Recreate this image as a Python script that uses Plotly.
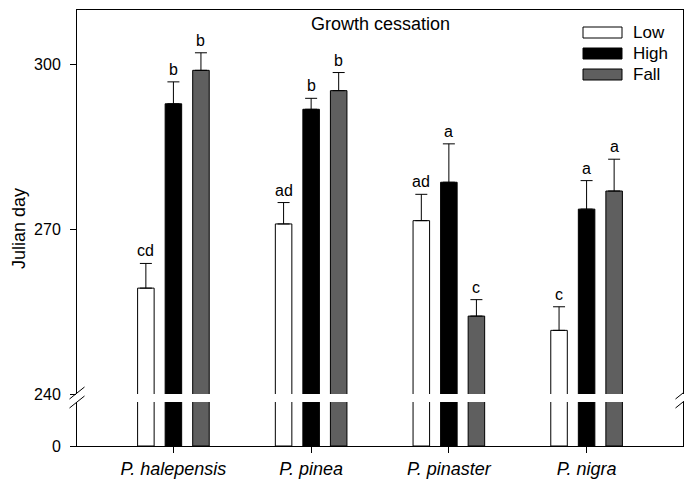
import plotly.graph_objects as go

species = ["P. halepensis", "P. pinea", "P. pinaster", "P. nigra"]
series = ["Low", "High", "Fall"]
low = [259.3, 271.0, 271.6, 251.6]
high = [292.9, 291.9, 278.6, 273.7]
fall = [299.0, 295.3, 254.2, 277.0]
low_err = [4.5, 3.9, 4.8, 4.3]
high_err = [4.0, 2.0, 7.0, 5.2]
fall_err = [3.2, 3.3, 3.0, 5.8]
low_lab = ["cd", "ad", "ad", "c"]
high_lab = ["b", "b", "a", "a"]
fall_lab = ["b", "b", "c", "a"]
yticks_top = [240, 270, 300]

values = [low, high, fall]
errs = [low_err, high_err, fall_err]
labs = [low_lab, high_lab, fall_lab]
colors = ["#ffffff", "#000000", "#5f5f5f"]

FONT = "Arial, Liberation Sans, sans-serif"
W, H = 684, 491
ML, MR, MT, MB = 77, 1, 10, 45
PW, PH = W - ML - MR, H - MT - MB

def px(x):
    return (x - ML) / PW

def py(y):
    return (H - MB - y) / PH

xs = list(range(len(species)))

fig = go.Figure()
for j, name in enumerate(series):
    # lower (broken) segment
    fig.add_trace(go.Bar(x=xs, y=values[j], name=name, marker=dict(color=colors[j], line=dict(color="black", width=1)),
                         xaxis="x", yaxis="y", showlegend=False))
for j, name in enumerate(series):
    fig.add_trace(go.Bar(x=xs, y=values[j], name=name, marker=dict(color=colors[j], line=dict(color="black", width=1)),
                         error_y=dict(type="data", array=errs[j], arrayminus=[0]*len(xs), symmetric=False,
                                      color="black", thickness=1, width=6),
                         xaxis="x2", yaxis="y2", showlegend=False))

bargap, bargroupgap = 0.4, 0.4
slot = (1 - bargap) / len(series)
annotations = []
for j in range(len(series)):
    for i in xs:
        annotations.append(dict(x=i + (j - 1) * slot, y=values[j][i] + errs[j][i], xref="x2", yref="y2",
                                text=labs[j][i], showarrow=False, yanchor="bottom", yshift=2,
                                font=dict(family=FONT, size=16, color="black")))

# title and y title
annotations.append(dict(x=0.5, y=py(24), xref="paper", yref="paper", text="Growth cessation", showarrow=False,
                        xanchor="center", yanchor="middle", font=dict(family=FONT, size=18, color="black")))
annotations.append(dict(x=px(19), y=py(228), xref="paper", yref="paper", text="Julian day", showarrow=False,
                        textangle=-90, xanchor="center", yanchor="middle", font=dict(family=FONT, size=18, color="black")))

shapes = []
# legend drawn manually
leg_y = [32.5, 53.5, 74.5]
for j, name in enumerate(series):
    shapes.append(dict(type="rect", xref="paper", yref="paper", x0=px(583), x1=px(622), y0=py(leg_y[j] - 5.5),
                       y1=py(leg_y[j] + 5.5), fillcolor=colors[j], line=dict(color="black", width=1)))
    annotations.append(dict(x=px(631), y=py(leg_y[j]), xref="paper", yref="paper", text=name, showarrow=False,
                            xanchor="left", yanchor="middle", font=dict(family=FONT, size=17, color="black")))

# axis break marks
for cx in (77, 683):
    for cy in (393, 402):
        shapes.append(dict(type="line", xref="paper", yref="paper", x0=px(cx - 7.5), y0=py(cy + 6),
                           x1=px(cx + 7.5), y1=py(cy - 6), line=dict(color="black", width=1)))

top_dom = [py(394), 1]
bot_dom = [0, py(402)]
xrange = [-0.7, 3.7]

fig.update_layout(
    width=W, height=H, margin=dict(l=ML, r=MR, t=MT, b=MB),
    paper_bgcolor="white", plot_bgcolor="white",
    barmode="group", bargap=bargap, bargroupgap=bargroupgap,
    font=dict(family=FONT, color="black"),
    showlegend=False,
    xaxis=dict(domain=[0, 1], range=xrange, tickvals=xs, ticktext=["<i>%s</i>" % s for s in species],
               showline=True, linecolor="black", linewidth=1, ticks="outside", ticklen=6, tickcolor="black",
               showgrid=False, zeroline=False, tickfont=dict(family=FONT, size=18), anchor="y"),
    yaxis=dict(domain=bot_dom, range=[0, 8], tickvals=[0], showline=True, mirror=True, linecolor="black",
               linewidth=1, ticks="outside", ticklen=6, tickcolor="black", showgrid=False, zeroline=False,
               tickfont=dict(family=FONT, size=16), anchor="x", ticklabelstandoff=6),
    xaxis2=dict(domain=[0, 1], range=xrange, matches="x", anchor="y2", side="top", showline=True,
                linecolor="black", linewidth=1, ticks="", showticklabels=False, showgrid=False, zeroline=False),
    yaxis2=dict(domain=top_dom, range=[240, 310], tickvals=yticks_top, showline=True, mirror=True,
                linecolor="black", linewidth=1, ticks="outside", ticklen=6, tickcolor="black", showgrid=False,
                zeroline=False, tickfont=dict(family=FONT, size=16), anchor="x2", ticklabelstandoff=6),
    annotations=annotations, shapes=shapes,
)

fig.write_html("out.html")
